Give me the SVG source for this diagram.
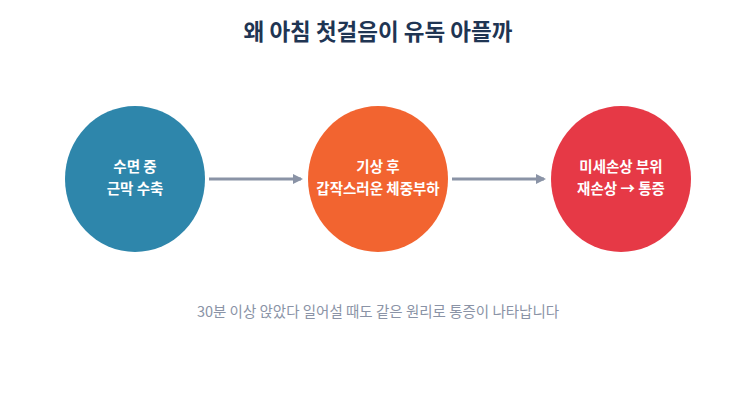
<svg xmlns="http://www.w3.org/2000/svg" width="756" height="405" viewBox="0 0 756 405">
<style>
.t{font-family:"Noto Sans CJK KR","Noto Sans",sans-serif;}
.n{fill:#fff;font-size:14.5px;font-weight:bold;text-anchor:middle;}
.c{stroke:#8a93a6;stroke-width:3;fill:none;}
</style>
<defs><marker id="a" markerWidth="10" markerHeight="10" refX="8" refY="5" orient="auto" markerUnits="userSpaceOnUse" viewBox="0 0 10 10"><path d="M0,0L10,5L0,10z" fill="#8a93a6"/></marker></defs>
<rect width="756" height="405" fill="#fff"/>
<text class="t" x="378" y="40" font-size="22.5" font-weight="bold" fill="#1f3553" text-anchor="middle">왜 아침 첫걸음이 유독 아플까</text>
<g id="n1"><ellipse cx="135" cy="179" rx="70" ry="73" fill="#2e86ab"/><text class="t n" x="135" y="172">수면 중</text><text class="t n" x="135" y="194">근막 수축</text></g>
<g id="n2"><ellipse cx="378" cy="179" rx="70" ry="73" fill="#f26430"/><text class="t n" x="378" y="172">기상 후</text><text class="t n" x="378" y="194">갑작스러운 체중부하</text></g>
<g id="n3"><ellipse cx="621" cy="179" rx="70" ry="73" fill="#e63946"/><text class="t n" x="621" y="172">미세손상 부위</text><text class="t n" x="621" y="194">재손상 → 통증</text></g>
<g id="connectors"><line class="c" x1="209" y1="179" x2="301" y2="179" marker-end="url(#a)"/><line class="c" x1="452" y1="179" x2="544" y2="179" marker-end="url(#a)"/></g>
<text class="t" x="378" y="317" font-size="14.5" fill="#8a93a6" text-anchor="middle">30분 이상 앉았다 일어설 때도 같은 원리로 통증이 나타납니다</text>
</svg>
